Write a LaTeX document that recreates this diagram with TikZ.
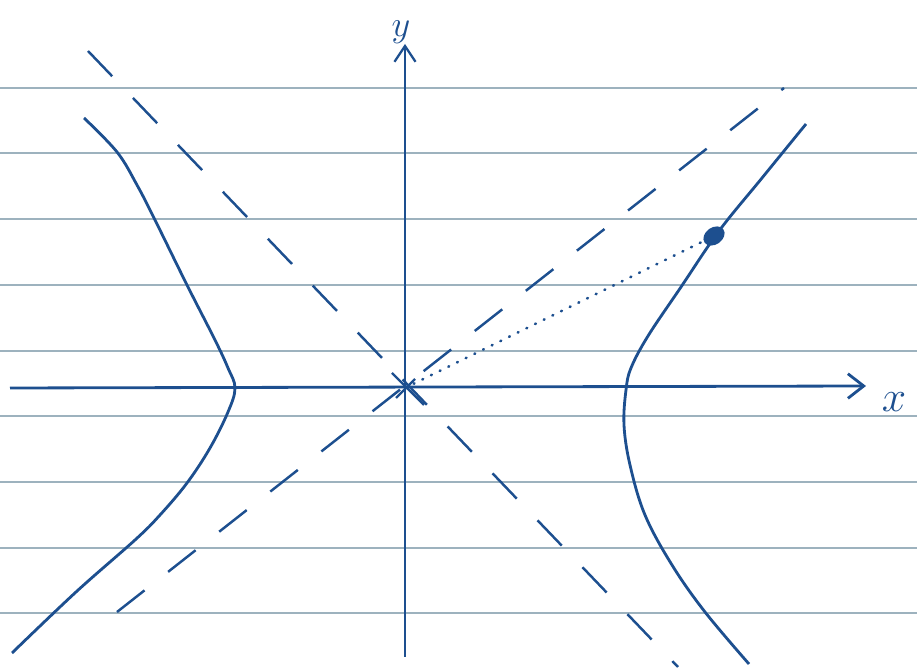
\documentclass[tikz,border=0pt]{standalone}
\usepackage{tikz}
\usetikzlibrary{arrows.meta}
\definecolor{inkblue}{HTML}{1D4F8F}
\definecolor{ruleline}{HTML}{9DB2BE}

\begin{document}
\begin{tikzpicture}[x=0.02cm,y=-0.02cm]
  \useasboundingbox (0,0) rectangle (917,671);
  % ruled paper
  \foreach \yy in {88,153,219,285,351,416,482,548,613}
    \draw[ruleline,line width=1pt] (0,\yy) -- (917,\yy);
  % axes
  \coordinate (O) at (405,388);
  \coordinate (xl) at (10,388);
  \coordinate (xr) at (866,386);
  \coordinate (yb) at (405,657);
  \coordinate (yt) at (405,44);
  \draw[inkblue,line width=1.6pt,-{Straight Barb[length=9pt,width=14pt]}] (xl) -- (xr);
  \draw[inkblue,line width=1.3pt,-{Straight Barb[length=9pt,width=12pt]}] (yb) -- (yt);
  \node[inkblue,font=\fontsize{24}{24}\selectfont] (xlab) at (894,402) {$x$};
  \node[inkblue,font=\fontsize{22}{22}\selectfont] (ylab) at (401,32) {$y$};
  % asymptotes
  \coordinate (a1) at (117,612);
  \coordinate (a2) at (784,88);
  \coordinate (b1) at (88,51);
  \coordinate (b2) at (678,667);
  \draw[inkblue,line width=1.4pt,dash pattern=on 0.7cm off 0.6cm] (a1) -- (a2);
  \draw[inkblue,line width=1.4pt,dash pattern=on 0.7cm off 0.6cm] (b1) -- (b2);
  \draw[inkblue,line width=1.4pt] (392,373) -- (424,405);
  \draw[inkblue,line width=1.4pt] (396,398) -- (415,379);
  % hyperbola
  \draw[inkblue,line width=1.6pt] plot[smooth,tension=0.6] coordinates {(84,118) (117,152) (137,185) (155,220) (187,285) (215,340) (228,368) (235,388) (228,412) (210,448) (187,483) (160,515) (135,540) (76,592) (12,653)};
  \draw[inkblue,line width=1.6pt] plot[smooth,tension=0.6] coordinates {(806,124) (762,178) (719,231) (681,287) (648,336) (631,368) (626,390) (624,425) (630,465) (645,515) (672,565) (705,612) (749,664)};
  % point on the curve
  \coordinate (P) at (714,236);
  \draw[inkblue,line width=1.5pt,line cap=round,dash pattern=on 0.5pt off 5pt] (O) -- (P);
  \fill[inkblue,rotate around={35:(P)}] (P) ellipse [x radius=0.23cm,y radius=0.17cm];
\end{tikzpicture}
\end{document}
